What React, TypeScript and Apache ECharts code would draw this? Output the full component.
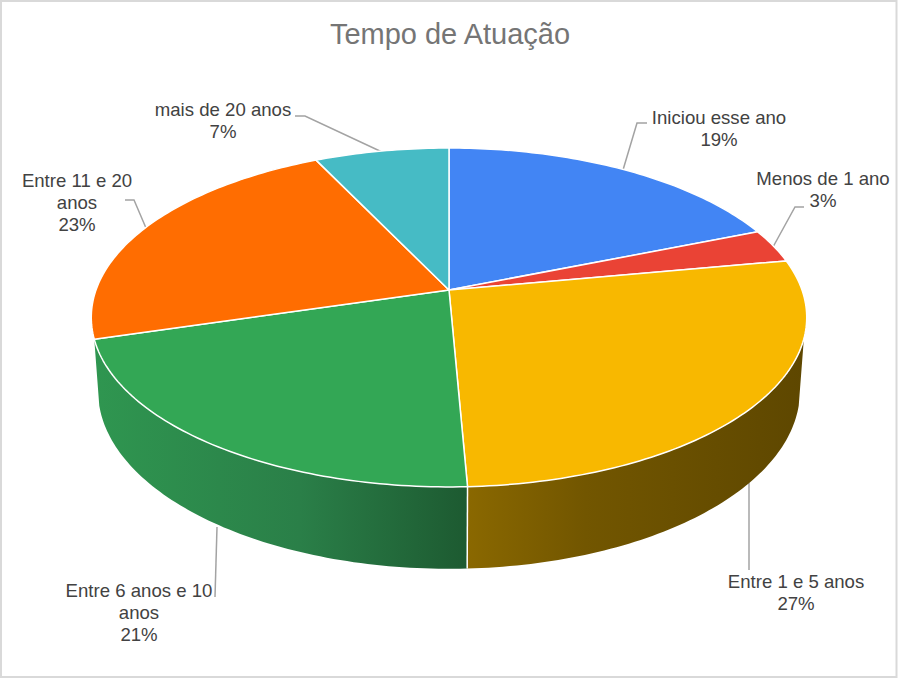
import React, { useEffect, useRef } from "react";
import * as echarts from "echarts";

const chartTitle = "Tempo de Atuação";
const categories = ["Iniciou esse ano", "Menos de 1 ano", "Entre 1 e 5 anos", "Entre 6 anos e 10 anos", "Entre 11 e 20 anos", "mais de 20 anos"];
const wrappedLabels = ["Iniciou esse ano", "Menos de 1 ano", "Entre 1 e 5 anos", "Entre 6 anos e 10\nanos", "Entre 11 e 20\nanos", "mais de 20 anos"];
const values = [18.9, 3.2, 27.2, 21.1, 22.5, 7.1];
const percentLabels = ["19%", "3%", "27%", "21%", "23%", "7%"];
const colors = ["#4285f4", "#ea4335", "#f8b800", "#33a755", "#ff6d01", "#46bbc5"];

// layout (not data)
const labelCentres = [[719, 106], [823, 167], [796, 570], [139, 579], [77, 169], [223, 98]];
const leaders = [
  [[647, 123], [637, 123], [623, 170]],
  [[804, 207], [795, 207], [773, 247]],
  [[749, 483], [749, 570]],
  [[217, 527], [215, 597]],
  [[125, 200], [134, 200], [146, 228]],
  [[295, 116], [305, 116], [382, 152]],
];
const wallFills: Record<number, [number, string][]> = {
  2: [[0, "#8a6800"], [0.35, "#725600"], [1, "#5e4700"]],
  3: [[0, "#2f9650"], [0.55, "#2a7f48"], [1, "#1d5a31"]],
};

const K = 0.162;
const TOP = { cx: 449, cy: 290, a: 353, b: 165 };
const LOW = { cx: 449, cy: 362, a: 346.3, b: 173.3 };
const WALL_FROM = 106.4;
const WALL_TO = 253.44;
const LOW_FROM = 104;
const LOW_TO = 256;

function project(p: typeof TOP, deg: number) {
  const t = (deg * Math.PI) / 180;
  const u = Math.sin(t);
  const v = Math.cos(t);
  const w = 1 + K * v;
  return [p.cx + (p.a * u) / w, p.cy - (p.b * v) / w];
}

function arc(p: typeof TOP, from: number, to: number) {
  const n = Math.max(2, Math.ceil(Math.abs(to - from)));
  const out: number[][] = [];
  for (let i = 0; i <= n; i++) out.push(project(p, from + ((to - from) * i) / n));
  return out;
}

function sliceRange(index: number) {
  const total = values.reduce((s, v) => s + v, 0);
  let before = 0;
  for (let i = 0; i < index; i++) before += values[i];
  return [(before / total) * 360, ((before + values[index]) / total) * 360];
}

function renderTop(params: any, api: any) {
  const i = params.dataIndex;
  const [a, b] = sliceRange(i);
  api.value(0);
  const pts = [[TOP.cx, TOP.cy], ...arc(TOP, a, b)];
  return {
    type: "polygon",
    shape: { points: pts },
    style: { fill: colors[i], stroke: "#ffffff", lineWidth: 1.5, lineJoin: "round" },
  };
}

function renderWall(params: any, api: any) {
  const i = params.dataIndex;
  const [a, b] = sliceRange(i);
  const s = Math.max(a, WALL_FROM);
  const e = Math.min(b, WALL_TO);
  if (e <= s || !wallFills[i]) return null;
  const atStart = Math.abs(s - WALL_FROM) < 1;
  const atEnd = Math.abs(e - WALL_TO) < 1;
  const ls = atStart ? LOW_FROM : s;
  const le = atEnd ? LOW_TO : e;
  const pts = [...arc(TOP, s, e), ...arc(LOW, le, ls)];
  const stops = wallFills[i].map(([offset, color]) => ({ offset, color }));
  return {
    type: "group",
    children: [
      {
        type: "polygon",
        shape: { points: pts },
        style: { fill: new echarts.graphic.LinearGradient(0, 0, 1, 0, stops), stroke: "none" },
      },
      ...(atEnd
        ? []
        : [
            {
              type: "line",
              shape: {
                x1: project(TOP, e)[0],
                y1: project(TOP, e)[1],
                x2: project(LOW, e)[0],
                y2: project(LOW, e)[1],
              },
              style: { stroke: "#ffffff", lineWidth: 1.5 },
              z2: 5,
            },
          ]),
    ],
  };
}

export default function App() {
  const ref = useRef<HTMLDivElement>(null);
  useEffect(() => {
    const chart = echarts.init(ref.current!, undefined, { renderer: "svg" });
    const seriesData = values.map((v, i) => ({ name: categories[i], value: [v] }));
    chart.setOption({
      animation: false,
      backgroundColor: "#ffffff",
      title: {
        text: chartTitle,
        left: 445,
        top: 14,
        textAlign: "center",
        textStyle: { color: "#757575", fontFamily: "Liberation Sans", fontSize: 29, fontWeight: "normal" },
      },
      series: [
        { type: "custom", coordinateSystem: "none", silent: true, z: 1, renderItem: renderWall, data: seriesData },
        { type: "custom", coordinateSystem: "none", silent: true, z: 2, renderItem: renderTop, data: seriesData },
      ],
      graphic: [
        {
          type: "rect",
          silent: true,
          shape: { x: 1, y: 1, width: 895.5, height: 676 },
          style: { fill: "none", stroke: "#d9d9d9", lineWidth: 2 },
          z: 10,
        },
        ...leaders.map((pts) => ({
          type: "polyline",
          silent: true,
          shape: { points: pts },
          style: { fill: "none", stroke: "#a3a3a3", lineWidth: 1.5 },
          z: 0,
        })),
        ...wrappedLabels.map((label, i) => ({
          type: "text",
          silent: true,
          x: labelCentres[i][0],
          y: labelCentres[i][1],
          z: 10,
          style: {
            text: `${label}\n${percentLabels[i]}`,
            fill: "#424242",
            fontFamily: "Liberation Sans",
            fontSize: 18.6,
            lineHeight: 22,
            align: "center",
            verticalAlign: "top",
          },
        })),
      ],
    });
    return () => chart.dispose();
  }, []);
  return (
    <div
      ref={ref}
      style={{ position: "fixed", left: 0, top: 0, width: 898, height: 679 }}
    />
  );
}
